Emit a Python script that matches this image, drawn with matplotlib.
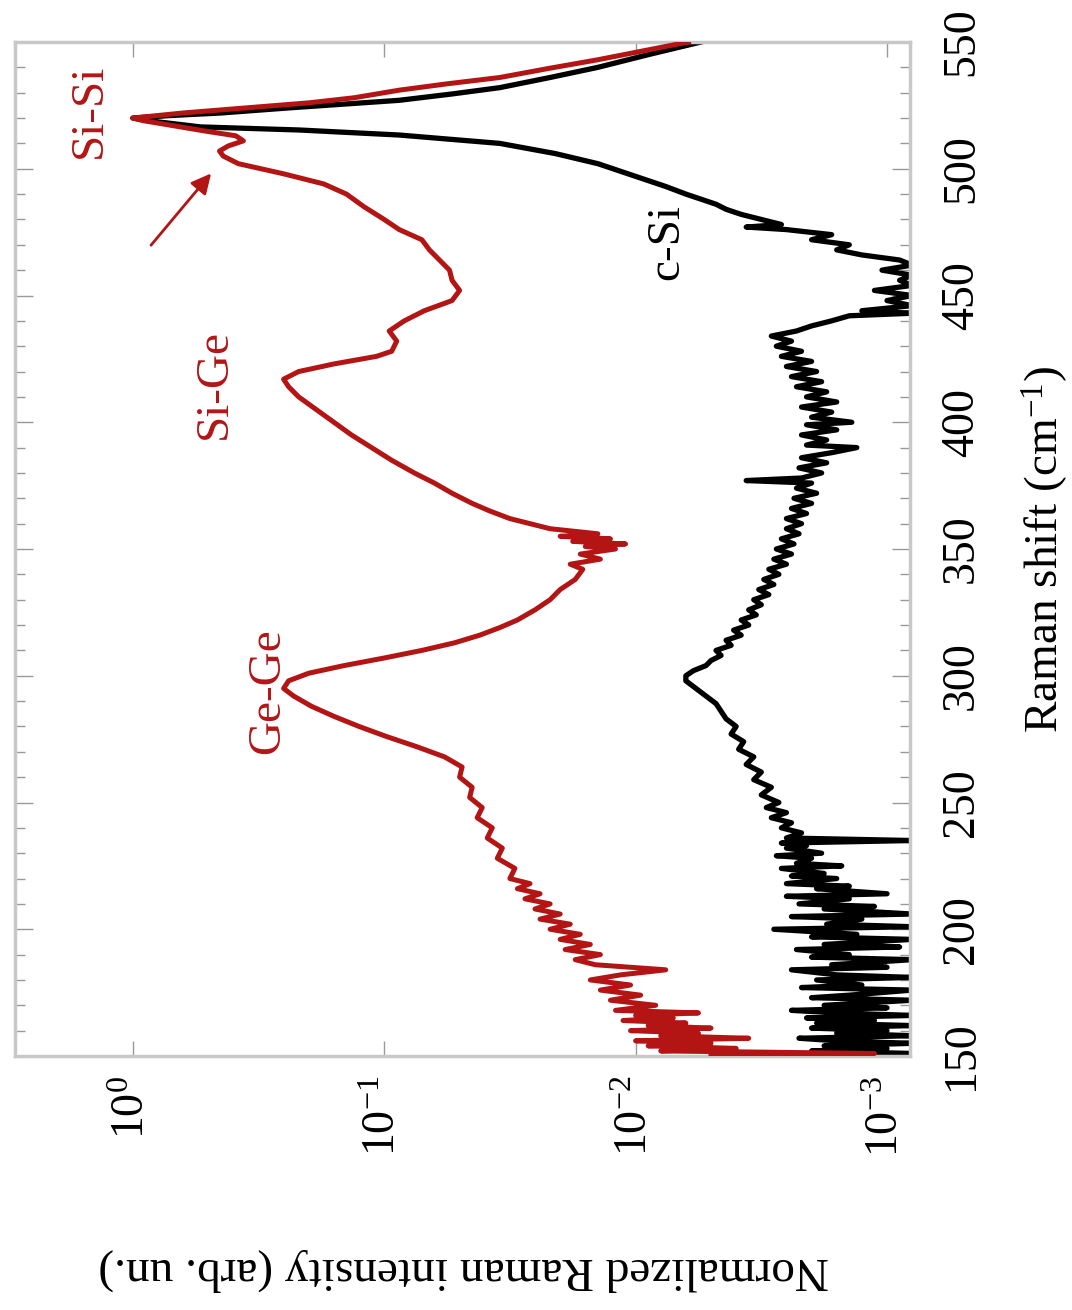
import numpy as np
import matplotlib
matplotlib.use("Agg")
import matplotlib.pyplot as plt
from matplotlib.ticker import MultipleLocator, NullLocator

plt.rcParams['font.family'] = ['Liberation Serif', 'DejaVu Serif']
plt.rcParams['mathtext.fontset'] = 'custom'
plt.rcParams['mathtext.rm'] = 'Liberation Serif'
plt.rcParams['mathtext.it'] = 'Liberation Serif:italic'
plt.rcParams['mathtext.bf'] = 'Liberation Serif:bold'

# SiGe alloy spectrum (red): Raman shift (cm-1) and log10 of normalized intensity
red_shift = [150, 151, 152, 153, 154, 155, 156, 157, 158, 159,
             160, 161, 162, 163, 164, 165, 166, 167, 168, 170,
             172, 174, 176, 178, 180, 182, 184, 186, 188, 190,
             192, 194, 196, 198, 200, 202, 204, 206, 208, 210,
             212, 214, 216, 218, 220, 224, 228, 232, 236, 240,
             244, 248, 252, 256, 260, 264, 268, 272, 276, 280,
             284, 288, 292, 295, 298, 301, 304, 307, 310, 313,
             316, 319, 322, 326, 330, 334, 338, 342, 344, 346,
             348, 350, 351, 352, 353, 354, 355, 356, 358, 360,
             362, 365, 368, 372, 376, 380, 385, 390, 395, 400,
             405, 410, 414, 417, 420, 423, 426, 428, 432, 436,
             440, 444, 448, 452, 456, 460, 464, 468, 472, 476,
             480, 485, 490, 494, 498, 502, 505, 507, 509, 511,
             513, 515, 517, 519, 520, 522, 524, 526, 528, 531,
             533.5, 536, 539.5, 543, 546.5, 550]
red_log = [-2.3, -2.95, -2.1, -2.4, -2.05, -2.3, -2.0, -2.45, -2.1, -2.25,
           -1.98, -2.3, -2.05, -2.2, -1.95, -2.15, -2.0, -2.25, -1.92, -2.08,
           -1.9, -2.02, -1.86, -1.98, -1.82, -1.94, -2.12, -1.84, -1.76, -1.86,
           -1.72, -1.82, -1.7, -1.78, -1.66, -1.74, -1.62, -1.7, -1.6, -1.66,
           -1.56, -1.62, -1.53, -1.58, -1.5, -1.52, -1.45, -1.47, -1.41, -1.43,
           -1.37, -1.39, -1.34, -1.35, -1.3, -1.31, -1.24, -1.13, -1.01, -0.9,
           -0.8, -0.71, -0.64, -0.6, -0.62, -0.7, -0.84, -1.0, -1.15, -1.28,
           -1.38, -1.46, -1.53, -1.6, -1.66, -1.7, -1.76, -1.79, -1.74, -1.86,
           -1.78, -1.92, -1.8, -1.96, -1.75, -1.9, -1.7, -1.85, -1.66, -1.58,
           -1.5, -1.42, -1.35, -1.27, -1.2, -1.12, -1.03, -0.95, -0.87, -0.8,
           -0.73, -0.66, -0.62, -0.6, -0.66, -0.8, -0.97, -1.03, -1.05, -1.02,
           -1.08, -1.16, -1.27, -1.3, -1.27, -1.26, -1.22, -1.18, -1.15, -1.06,
           -1.0, -0.92, -0.85, -0.76, -0.6, -0.42, -0.36, -0.345, -0.38, -0.44,
           -0.41, -0.28, -0.16, -0.04, 0.0, -0.2, -0.45, -0.7, -0.88, -1.06,
           -1.25, -1.46, -1.65, -1.85, -2.03, -2.21]

# crystalline Si reference (black)
black_shift = [150, 151, 152, 153, 154, 155, 156, 157, 158, 159,
               160, 161, 162, 163, 164, 165, 166, 167, 168, 169,
               170, 172, 173, 174, 176, 177, 178, 180, 181, 182,
               184, 185, 186, 188, 189, 190, 192, 193, 194, 196,
               197, 198, 200, 201, 202, 204, 205, 206, 208, 209,
               210, 212, 213, 214, 216, 217, 218, 220, 221, 222,
               224, 225, 226, 228, 229, 230, 232, 233, 234, 235,
               236, 238, 240, 242, 244, 246, 248, 250, 253, 256,
               259, 262, 265, 268, 271, 274, 277, 280, 283, 286,
               289, 292, 295, 298, 300, 302, 304, 306, 308, 310,
               312, 314, 316, 318, 320, 322, 324, 326, 328, 330,
               332, 334, 336, 338, 340, 342, 344, 346, 348, 350,
               352, 354, 356, 358, 360, 362, 364, 366, 368, 370,
               372, 374, 376, 377, 378, 380, 382, 384, 386, 388,
               390, 391, 393, 395, 397, 399, 400, 402, 404, 406,
               408, 410, 412, 414, 416, 418, 420, 422, 424, 426,
               428, 430, 432, 434, 436, 438, 440, 442, 443, 444,
               446, 448, 450, 452, 454, 456, 458, 460, 462, 464,
               466, 468, 470, 472, 474, 476, 477, 478, 480, 482,
               484, 486, 488, 490, 493, 497, 502, 506, 510, 513.3,
               515.3, 516.5, 518.5, 520, 521, 522, 524, 527, 529.5, 532,
               536, 540, 545, 550]
black_log = [-2.9, -3.1, -2.7, -3.0, -2.75, -3.1, -2.8, -2.65, -3.1, -2.8,
             -3.0, -2.7, -3.1, -2.72, -2.95, -2.68, -3.1, -2.8, -2.62, -3.0,
             -2.75, -3.1, -2.7, -2.85, -3.1, -2.66, -2.9, -2.72, -3.1, -2.8,
             -2.62, -3.0, -2.78, -3.1, -2.7, -2.85, -2.64, -3.05, -2.75, -3.1,
             -2.7, -2.88, -2.55, -3.1, -2.76, -2.9, -2.62, -3.1, -2.75, -2.95,
             -2.65, -2.85, -2.6, -3.0, -2.72, -2.85, -2.6, -2.8, -2.62, -2.75,
             -2.58, -2.82, -2.64, -2.7, -2.56, -2.74, -2.6, -2.68, -2.58, -3.1,
             -2.6, -2.66, -2.58, -2.62, -2.54, -2.6, -2.52, -2.57, -2.5, -2.54,
             -2.47, -2.5, -2.44, -2.47, -2.41, -2.43, -2.38, -2.4, -2.36, -2.34,
             -2.32, -2.28, -2.24, -2.2, -2.2, -2.23, -2.28, -2.3, -2.34, -2.32,
             -2.38, -2.36, -2.42, -2.39, -2.45, -2.42, -2.48, -2.45, -2.5, -2.47,
             -2.53, -2.49, -2.55, -2.51, -2.57, -2.53, -2.6, -2.55, -2.62, -2.56,
             -2.63, -2.58, -2.65, -2.6, -2.66, -2.6, -2.68, -2.62, -2.7, -2.63,
             -2.72, -2.64, -2.7, -2.44, -2.66, -2.74, -2.65, -2.76, -2.66, -2.78,
             -2.88, -2.68, -2.76, -2.66, -2.8, -2.68, -2.86, -2.7, -2.78, -2.66,
             -2.8, -2.68, -2.76, -2.64, -2.74, -2.62, -2.72, -2.6, -2.7, -2.58,
             -2.66, -2.56, -2.62, -2.54, -2.64, -2.7, -2.78, -2.85, -3.1, -2.9,
             -3.1, -3.0, -3.1, -2.95, -3.1, -3.05, -3.1, -2.98, -3.1, -3.05,
             -2.9, -2.8, -2.85, -2.7, -2.78, -2.6, -2.44, -2.58, -2.5, -2.42,
             -2.36, -2.32, -2.26, -2.2, -2.12, -2.0, -1.85, -1.68, -1.46, -1.06,
             -0.66, -0.27, -0.1, 0.0, -0.15, -0.35, -0.62, -1.06, -1.27, -1.46,
             -1.66, -1.85, -2.05, -2.26]

shift_ticks = [150, 200, 250, 300, 350, 400, 450, 500, 550]
intensity_ticks = [1, 0.1, 0.01, 0.001]

red = '#b31515'
grey = '#c8c8c8'

fig = plt.figure(figsize=(10.72, 13.10), dpi=100)
ax = fig.add_axes([15 / 1072, 1 - 1056 / 1310, 895 / 1072, 1014 / 1310])

# the figure is drawn rotated: intensity runs along x (reversed), shift along y
ax.plot(10 ** np.array(black_log), black_shift, color='black', lw=3.8, zorder=2)
ax.plot(10 ** np.array(red_log), red_shift, color=red, lw=3.6, zorder=3)

ax.set_xscale('log')
ax.set_xlim(2.94, 8.1e-4)
ax.set_ylim(150, 550)
ax.set_xticks(intensity_ticks)
ax.xaxis.set_minor_locator(NullLocator())
ax.set_yticks(shift_ticks)
ax.yaxis.set_minor_locator(MultipleLocator(10))

for s in ax.spines.values():
    s.set_color(grey)
    s.set_linewidth(2.5)

ax.tick_params(axis='x', which='major', direction='in', length=11, width=1,
               color='#999999', top=True, bottom=True, labelsize=33,
               pad=14, labelrotation=90)
ax.tick_params(axis='y', which='major', direction='in', length=13, width=1,
               color='#999999', left=True, right=True, labelleft=False,
               labelright=True, labelsize=33, pad=22, labelrotation=90)
ax.tick_params(axis='y', which='minor', direction='in', length=7, width=1,
               color='#999999', left=True, right=True)
for lab in ax.get_yticklabels():
    lab.set_va('center')

fig.text(1045 / 1072, 1 - 549 / 1310, 'Raman shift (cm$^{-1}$)', fontsize=34,
         rotation=90, ha='center', va='center')
fig.text(464 / 1072, 1 - 1270 / 1310, 'Normalized Raman intensity (arb. un.)',
         fontsize=34, rotation=180, ha='center', va='center')

ax.text(1.48, 523, 'Si-Si', color=red, fontsize=34, rotation=90,
        ha='center', va='center')
ax.text(0.473, 415, 'Si-Ge', color=red, fontsize=34, rotation=90,
        ha='center', va='center')
ax.text(0.291, 294, 'Ge-Ge', color=red, fontsize=34, rotation=90,
        ha='center', va='center')
ax.text(0.0075, 471, 'c-Si', color='black', fontsize=34, rotation=90,
        ha='center', va='center')
ax.annotate('', xy=(0.48, 499), xytext=(0.86, 469),
            arrowprops=dict(arrowstyle='-|>', color=red, lw=2,
                            mutation_scale=30))

fig.savefig('out.png', dpi=100)
